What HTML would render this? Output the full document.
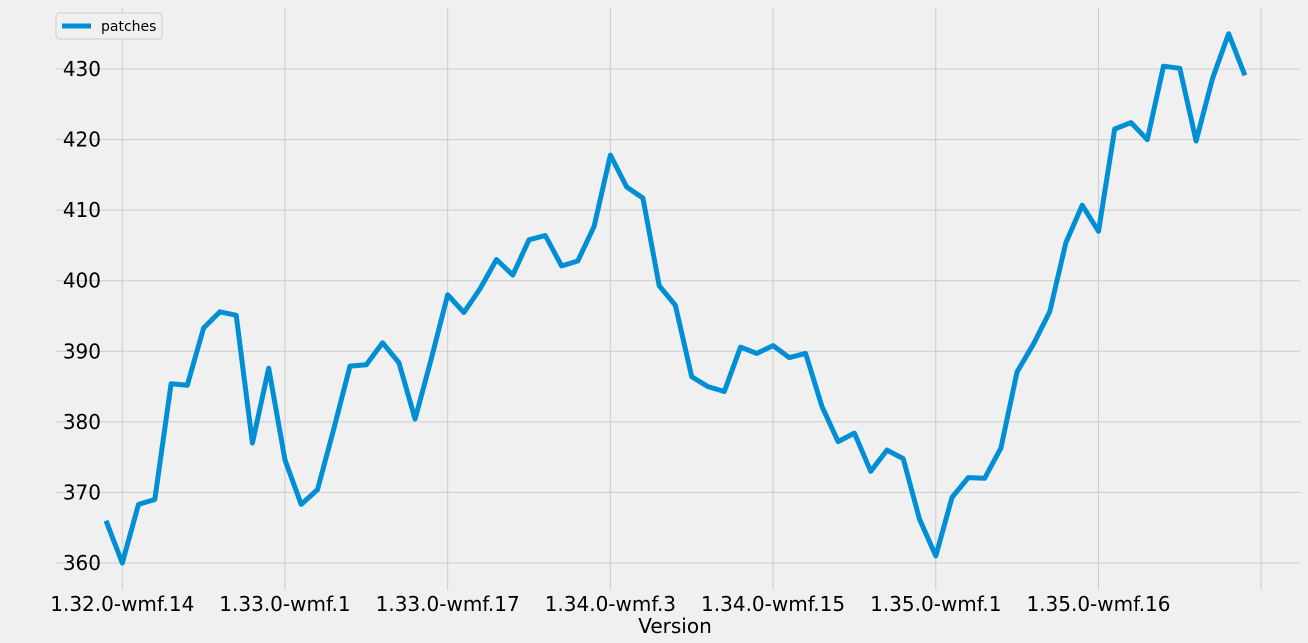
<!DOCTYPE html>
<html><head><meta charset="utf-8">
<style>
html,body{margin:0;padding:0;background:#f0f0f0;}
svg{display:block;font-family:"DejaVu Sans","Liberation Sans",sans-serif;}
</style></head>
<body>
<svg id="chart" width="1308" height="643" viewBox="0 0 1308 643">
<rect x="0" y="0" width="1308" height="643" fill="#f0f0f0"/>
<g id="grid"></g>
<g id="axes"></g>
<g id="series"></g>
<g id="legend">
<rect x="56" y="13" width="106" height="26" rx="3" fill="#f0f0f0" stroke="#cccccc" stroke-width="1"/>
<line x1="62" y1="26" x2="91" y2="26" stroke="#008fd5" stroke-width="5"/>
<text x="101" y="31" font-size="14" fill="#000">patches</text>
</g>
<text x="675" y="633" font-size="20" text-anchor="middle" fill="#000">Version</text>
</svg>
<script>
const values = [366,360,368.3,369,385.4,385.2,393.3,395.6,395.1,377,387.6,374.6,368.3,370.4,379,387.9,388.1,391.2,388.4,380.4,389,398,395.5,398.9,403,400.8,405.8,406.4,402.1,402.8,407.7,417.8,413.3,411.7,399.3,396.5,386.4,385,384.3,390.6,389.7,390.8,389.1,389.7,382.2,377.2,378.4,373,376,374.8,366.2,361,369.3,372.1,372,376.3,387.1,391,395.6,405.4,410.7,407,421.5,422.4,420,430.4,430.1,419.8,428.6,435,429.1];
const xTickIdx = [1,11,21,31,41,51,61,71];
const xTickLabels = ["1.32.0-wmf.14","1.33.0-wmf.1","1.33.0-wmf.17","1.34.0-wmf.3","1.34.0-wmf.15","1.35.0-wmf.1","1.35.0-wmf.16",""];
const yTicks = [360,370,380,390,400,410,420,430];

const NS="http://www.w3.org/2000/svg";
const plotL=56, plotR=1301, plotT=8, plotB=590;
function xs(i){return 106+(i)*16.27;}
function ys(v){return 563-(v-360)*(563-69)/70;}
const grid=document.getElementById('grid'), axes=document.getElementById('axes'), series=document.getElementById('series');

yTicks.forEach(t=>{
  const l=document.createElementNS(NS,'line');
  l.setAttribute('x1',plotL);l.setAttribute('x2',plotR);
  l.setAttribute('y1',ys(t));l.setAttribute('y2',ys(t));
  l.setAttribute('stroke','#cbcbcb');l.setAttribute('stroke-width','1');
  
  
  grid.appendChild(l);
  const tx=document.createElementNS(NS,'text');
  tx.setAttribute('x',plotL+45);tx.setAttribute('y',ys(t)+7);
  tx.setAttribute('font-size','20');tx.setAttribute('text-anchor','end');
  tx.textContent=t;
  
  
  axes.appendChild(tx);
});
xTickIdx.forEach((ix,k)=>{
  const l=document.createElementNS(NS,'line');
  l.setAttribute('x1',xs(ix));l.setAttribute('x2',xs(ix));
  l.setAttribute('y1',plotT);l.setAttribute('y2',plotB);
  l.setAttribute('stroke','#cbcbcb');l.setAttribute('stroke-width','1');
  
  
  grid.appendChild(l);
  const tx=document.createElementNS(NS,'text');
  tx.setAttribute('x',xs(ix));tx.setAttribute('y',611);
  tx.setAttribute('font-size','20');tx.setAttribute('text-anchor','middle');
  tx.textContent=xTickLabels[k];
  
  
  axes.appendChild(tx);
});
const p=document.createElementNS(NS,'polyline');
p.setAttribute('points',values.map((v,i)=>xs(i).toFixed(1)+','+ys(v).toFixed(1)).join(' '));
p.setAttribute('fill','none');p.setAttribute('stroke','#008fd5');p.setAttribute('stroke-width','5');
p.setAttribute('stroke-linejoin','round');


series.appendChild(p);
</script>
</body></html>
